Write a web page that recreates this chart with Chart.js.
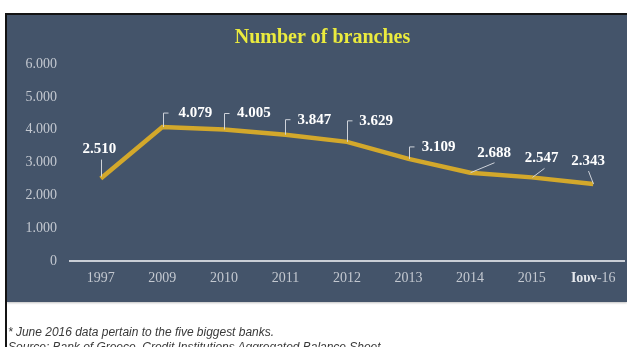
<!DOCTYPE html>
<html>
<head>
<meta charset="utf-8">
<script src="https://cdn.jsdelivr.net/npm/chart.js@4.4.0/dist/chart.umd.min.js"></script>
<style>
  html, body { margin: 0; padding: 0; background: #fff; width: 627px; height: 347px; overflow: hidden; }
  #wrap { position: relative; width: 627px; height: 347px; }
  #frame { position: absolute; left: 5px; top: 13px; width: 622px; height: 334px;
           border-left: 2px solid #141414; border-top: 2px solid #141414; box-sizing: border-box; }
  #panel { position: absolute; left: 7px; top: 15px; width: 620px; height: 287px; background: #44546a;
           box-shadow: 0 1px 2px rgba(0,0,0,0.25); }
  canvas { position: absolute; left: 0; top: 0; }
  .note { position: absolute; left: 8px; font-family: "Liberation Sans", Arial, sans-serif; font-style: italic;
          font-size: 12px; line-height: 14px; color: #3a3a3a; white-space: nowrap; transform-origin: 0 0; }
</style>
</head>
<body>
<div id="wrap">
  <div id="frame"></div>
  <div id="panel"></div>
  <canvas id="chart" width="627" height="347"></canvas>
  <div class="note" id="note1" style="top:325px">* June 2016 data pertain to the five biggest banks.</div>
  <div class="note" id="note2" style="top:340px">Source: Bank of Greece, Credit Institutions Aggregated Balance Sheet.</div>
</div>
<script>
// Branch network size by year
const categories = ['1997', '2009', '2010', '2011', '2012', '2013', '2014', '2015', 'Ιουν-16'];
const branches = [2510, 4079, 4005, 3847, 3629, 3109, 2688, 2547, 2343];
const yTicks = [0, 1000, 2000, 3000, 4000, 5000, 6000];
const chartTitle = 'Number of branches';

// Value label placement relative to each point: label centre offset and leader path
const labelPlacement = [
  { dx: -1.5, dy: -29.5, leader: [[0, -2], [0, -19]] },
  { dx: 33,   dy: -14,   leader: [[1, 0], [1, -14], [6, -14]] },
  { dx: 30,   dy: -16,   leader: [[0, 0], [0, -16], [5, -16]] },
  { dx: 29,   dy: -14.5, leader: [[0, 0], [0, -15], [5, -15]] },
  { dx: 29,   dy: -20.8, leader: [[0, 0], [0, -21], [5, -21]] },
  { dx: 30,   dy: -12,   leader: [[0, 0], [0, -12], [5, -12]] },
  { dx: 24,   dy: -19.5, leader: [[0, 0], [24, -10]] },
  { dx: 10,   dy: -19,   leader: [[0, 0], [12, -9]] },
  { dx: -5,   dy: -23,   leader: [[0, 0], [-5, -13]] }
];

const fmt = v => String(v).replace(/\B(?=(\d{3})+(?!\d))/g, '.');
const SERIF = '"Liberation Serif", "Times New Roman", serif';
const TICK_COLOR = '#c3c8d0';

const decorations = {
  id: 'decorations',
  afterDatasetsDraw(chart) {
    const ctx = chart.ctx;
    const pts = chart.getDatasetMeta(0).data;
    ctx.save();
    // leaders
    ctx.strokeStyle = '#cfd3da';
    ctx.lineWidth = 1;
    pts.forEach((p, i) => {
      const pl = labelPlacement[i];
      ctx.beginPath();
      pl.leader.forEach((q, k) => {
        const x = Math.round(p.x + q[0]) + 0.5, y = p.y + q[1];
        if (k === 0) ctx.moveTo(x, y); else ctx.lineTo(x, y);
      });
      ctx.stroke();
    });
    // value labels
    ctx.fillStyle = '#ffffff';
    ctx.font = 'bold 15px ' + SERIF;
    ctx.textAlign = 'center';
    ctx.textBaseline = 'middle';
    pts.forEach((p, i) => {
      const pl = labelPlacement[i];
      ctx.fillText(fmt(branches[i]), p.x + pl.dx, p.y + pl.dy);
    });
    ctx.restore();
  },
  afterDraw(chart) {
    const ctx = chart.ctx;
    ctx.save();
    // title
    ctx.fillStyle = '#ebeb3e';
    ctx.font = 'bold 20px ' + SERIF;
    ctx.textAlign = 'center';
    ctx.textBaseline = 'alphabetic';
    ctx.fillText(chartTitle, 322.5, 43);
    // last category label: bold month part, regular year part
    const xs = chart.scales.x;
    const last = categories.length - 1;
    const txt = categories[last];
    const cut = txt.indexOf('-');
    const a = cut >= 0 ? txt.slice(0, cut) : txt;
    const b = cut >= 0 ? txt.slice(cut) : '';
    ctx.font = 'bold 14px ' + SERIF;
    const wa = ctx.measureText(a).width;
    ctx.font = '14px ' + SERIF;
    const wb = ctx.measureText(b).width;
    const cx = xs.getPixelForTick(last);
    const y = 278;
    let x = cx - (wa + wb) / 2;
    ctx.textAlign = 'left';
    ctx.textBaseline = 'middle';
    ctx.font = 'bold 14px ' + SERIF;
    ctx.fillStyle = '#e4e7ec';
    ctx.fillText(a, x, y);
    ctx.font = '14px ' + SERIF;
    ctx.fillStyle = TICK_COLOR;
    ctx.fillText(b, x + wa, y);
    ctx.restore();
  }
};

new Chart(document.getElementById('chart'), {
  type: 'line',
  data: {
    labels: categories,
    datasets: [{
      data: branches,
      borderColor: '#d3a82b',
      borderWidth: 4.5,
      borderJoinStyle: 'miter',
      tension: 0,
      pointRadius: 0,
      pointHoverRadius: 0,
      fill: false
    }]
  },
  options: {
    responsive: false,
    animation: false,
    events: [],
    layout: { padding: { left: 0, top: 64, right: 3, bottom: 0 } },
    plugins: { legend: { display: false }, tooltip: { enabled: false }, title: { display: false } },
    scales: {
      x: {
        type: 'category',
        offset: true,
        grid: { display: false, drawTicks: false },
        border: { display: true, color: '#c9ced6', width: 2 },
        ticks: {
          color: TICK_COLOR,
          font: { family: SERIF, size: 14 },
          padding: 9,
          maxRotation: 0,
          autoSkip: false,
          callback: (v, i) => (i === categories.length - 1 ? '' : categories[i])
        },
        afterFit(s) { s.height = 86; }
      },
      y: {
        min: 0,
        max: 6000,
        grid: { display: false, drawTicks: false },
        border: { display: false },
        ticks: {
          color: TICK_COLOR,
          font: { family: SERIF, size: 14 },
          padding: 13,
          callback: v => fmt(v)
        },
        afterBuildTicks(s) { s.ticks = yTicks.map(v => ({ value: v })); },
        afterFit(s) { s.width = 70; }
      }
    }
  },
  plugins: [decorations]
});

// Fit the italic notes to the source line length
(function () {
  const n1 = document.getElementById('note1');
  const n2 = document.getElementById('note2');
  const k = 266 / n1.getBoundingClientRect().width;
  n1.style.transform = 'scaleX(' + k + ')';
  n2.style.transform = 'scaleX(' + k + ')';
})();
</script>
</body>
</html>
